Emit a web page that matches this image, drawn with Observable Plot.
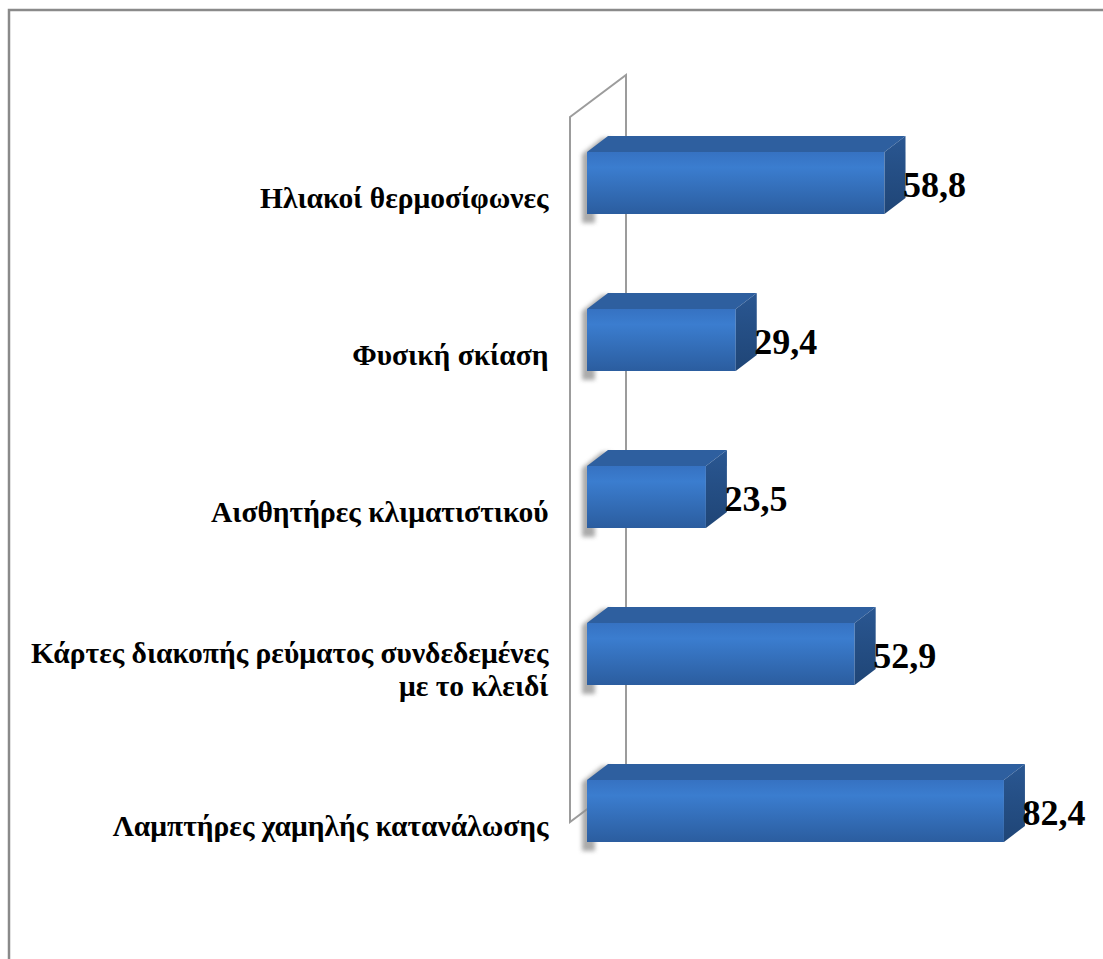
<!DOCTYPE html>
<html>
<head>
<meta charset="utf-8">
<script src="https://cdn.jsdelivr.net/npm/d3@7"></script>
<script src="https://cdn.jsdelivr.net/npm/@observablehq/plot@0.6"></script>
<style>
  html, body { margin: 0; padding: 0; background: #ffffff; }
  #chart svg { display: block; }
  #chart svg text { font-family: "Liberation Serif", "Times New Roman", serif; }
</style>
</head>
<body>
<div id="chart"></div>
<script>
// Energy-saving measures (percentage of respondents)
const categories = [
  "Ηλιακοί θερμοσίφωνες",
  "Φυσική σκίαση",
  "Αισθητήρες κλιματιστικού",
  "Κάρτες διακοπής ρεύματος συνδεδεμένες\nμε το κλειδί",
  "Λαμπτήρες χαμηλής κατανάλωσης"
];
const values = [58.8, 29.4, 23.5, 52.9, 82.4];

const data = categories.map((category, i) => ({category, value: values[i]}));
const fmt = v => v.toFixed(1).replace(".", ",");

const serif = "Liberation Serif";

const W = 1103, H = 959;

const plot = Plot.plot({
  width: W,
  height: H,
  marginLeft: 587,
  marginRight: 10,
  marginTop: 104,
  marginBottom: 68,
  style: {background: "transparent", overflow: "visible"},
  x: {domain: [0, 100], axis: null},
  y: {domain: categories, paddingInner: 0.605, paddingOuter: 0.3025, axis: null},
  marks: [
    // front faces of the bars
    Plot.rectX(data, {x1: 0, x2: "value", y: "category", fill: "url(#barFront)"}),
    // category labels
    Plot.text(data, {
      x: () => 0, y: "category", text: "category",
      dx: -39, dy: 14, textAnchor: "end", lineHeight: 1.12,
      fontSize: 29.5, fontWeight: "bold", fontFamily: serif, fill: "#000"
    }),
    // value labels
    Plot.text(data, {
      x: "value", y: "category", text: d => fmt(d.value),
      dx: 18, dy: 2, textAnchor: "start",
      fontSize: 36, fontWeight: "bold", fontFamily: serif, fill: "#000"
    })
  ]
});

document.getElementById("chart").appendChild(plot);

const svg = d3.select(plot);
svg.selectAll("text").style("font-family", "'Liberation Serif', 'Times New Roman', serif");
const xs = plot.scale("x");
const ys = plot.scale("y");
const X = v => xs.apply(v);
const bw = ys.bandwidth;

// depth of the bars and of the back wall (oblique projection)
const depth = {dx: 21, dy: -16};
const wallDepth = {dx: 56, dy: -42};

// gradients and blur
const defs = svg.insert("defs", ":first-child");
const gf = defs.append("linearGradient").attr("id", "barFront")
  .attr("x1", 0).attr("y1", 0).attr("x2", 0).attr("y2", 1);
gf.append("stop").attr("offset", "0%").attr("stop-color", "#3672c2");
gf.append("stop").attr("offset", "25%").attr("stop-color", "#3b7dcf");
gf.append("stop").attr("offset", "100%").attr("stop-color", "#2b5d9f");
const gs = defs.append("linearGradient").attr("id", "barSide")
  .attr("x1", 0).attr("y1", 0).attr("x2", 0).attr("y2", 1);
gs.append("stop").attr("offset", "0%").attr("stop-color", "#2a5792");
gs.append("stop").attr("offset", "100%").attr("stop-color", "#1f4576");
defs.append("filter").attr("id", "soft")
  .attr("x", "-50%").attr("y", "-50%").attr("width", "200%").attr("height", "200%")
  .append("feGaussianBlur").attr("stdDeviation", 2.2);

const rectGroup = plot.querySelector('g[aria-label="rect"]');
const poly = pts => pts.map(p => p.join(",")).join(" ");

// chart frame and back wall, behind the bars
const back = svg.insert("g", () => rectGroup);
back.append("rect")
  .attr("x", 9).attr("y", 10).attr("width", W + 20).attr("height", H + 20)
  .attr("fill", "none").attr("stroke", "#8a8a8a").attr("stroke-width", 2.5);

const wx = X(0) - 17;
const wTop = 117, wBottom = 822;
back.append("polygon")
  .attr("points", poly([
    [wx, wTop], [wx + wallDepth.dx, wTop + wallDepth.dy],
    [wx + wallDepth.dx, wBottom + wallDepth.dy], [wx, wBottom]
  ]))
  .attr("fill", "#ffffff").attr("stroke", "#9c9c9c").attr("stroke-width", 2);

// soft shadows cast on the wall at the left of each bar
back.selectAll("polygon.shadow")
  .data(data)
  .join("polygon")
  .attr("class", "shadow")
  .attr("points", d => {
    const x0 = X(0), y0 = ys.apply(d.category), y1 = y0 + bw;
    return poly([
      [x0 - 5, y1 + 9], [x0 - 5, y0 + 2],
      [x0 + depth.dx - 6, y0 + depth.dy + 2], [x0 + depth.dx + 4, y0 + depth.dy + 2],
      [x0 + 8, y0 + 6], [x0 + 8, y1 + 9]
    ]);
  })
  .attr("fill", "#8f8f8f")
  .attr("opacity", 0.75)
  .attr("filter", "url(#soft)");

// top and side faces, drawn just after the front faces
const faces = svg.insert("g", () => rectGroup.nextSibling);
faces.selectAll("polygon.top")
  .data(data)
  .join("polygon")
  .attr("class", "top")
  .attr("points", d => {
    const x0 = X(0), x1 = X(d.value), y0 = ys.apply(d.category);
    return poly([
      [x0, y0], [x0 + depth.dx, y0 + depth.dy],
      [x1 + depth.dx, y0 + depth.dy], [x1, y0]
    ]);
  })
  .attr("fill", "#2e5f9f");
faces.selectAll("polygon.side")
  .data(data)
  .join("polygon")
  .attr("class", "side")
  .attr("points", d => {
    const x1 = X(d.value), y0 = ys.apply(d.category), y1 = y0 + bw;
    return poly([
      [x1, y0], [x1 + depth.dx, y0 + depth.dy],
      [x1 + depth.dx, y1 + depth.dy], [x1, y1]
    ]);
  })
  .attr("fill", "url(#barSide)");
</script>
</body>
</html>
